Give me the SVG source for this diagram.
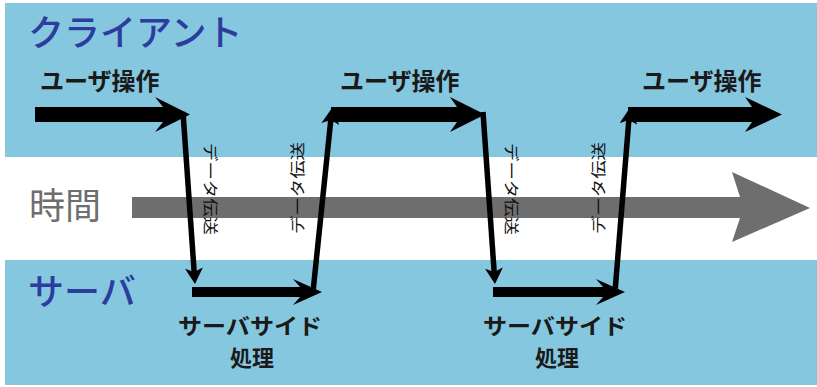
<svg xmlns="http://www.w3.org/2000/svg" width="817" height="387" viewBox="0 0 817 387">
<style>
.band{fill:#86c7e0}
.title{font-family:"Noto Sans CJK JP","Noto Sans",sans-serif;font-size:36px;font-weight:500;fill:#2c3d9e}
.time{font-family:"Noto Sans CJK JP","Noto Sans",sans-serif;font-size:36px;fill:#6e6e6e}
.lbl{font-family:"Noto Sans CJK JP","Noto Sans",sans-serif;font-size:24px;font-weight:bold;fill:#1a1a1a}
.sp{font-family:"Noto Sans CJK JP","Noto Sans",sans-serif;font-size:22px;font-weight:bold;fill:#1a1a1a;text-anchor:middle}
.dl{font-family:"Noto Sans CJK JP","Noto Sans",sans-serif;font-size:15px;fill:#111;text-anchor:middle;dominant-baseline:central}
.thick{fill:#000}
.thin{fill:none;stroke:#000;stroke-width:5.5;marker-end:url(#ah)}
</style>
<defs>
<marker id="ah" markerUnits="userSpaceOnUse" markerWidth="17" markerHeight="18" refX="6" refY="9" orient="auto" viewBox="0 0 17 18">
<path d="M0,0 L16,9 L0,18 L4,9 Z" fill="#000"/>
</marker>
</defs>
<rect width="817" height="387" fill="#fff"/>
<g id="client-band">
<rect class="band" x="5" y="3" width="812" height="154"/>
<text class="title" x="28" y="46">クライアント</text>
</g>
<g id="server-band">
<rect class="band" x="5" y="260" width="812" height="125"/>
<text class="title" x="28" y="305">サーバ</text>
</g>
<g id="time">
<text class="time" x="29" y="219">時間</text>
<path d="M132,197 L740,197 L732,172 L810,208 L732,242 L740,218 L132,218 Z" fill="#6e6e6e"/>
</g>
<g id="connectors">
<path class="thick" d="M35,107 L163,107 L155,97 L190,114.5 L155,132 L163,122 L35,122 Z"/>
<path class="thin" d="M183,112 L194.3,274"/>
<path class="thick" d="M192,287 L300,287 L293,279 L322,292 L293,305 L300,297 L192,297 Z"/>
<path class="thin" d="M313,292 L331,118"/>
<path class="thick" d="M331,107 L457,107 L450,97 L485,114.5 L450,132 L457,122 L331,122 Z"/>
<path class="thin" d="M483,112 L494.3,274"/>
<path class="thick" d="M493,287 L603,287 L596,279 L625,292 L596,305 L603,297 L493,297 Z"/>
<path class="thin" d="M615,292 L629,118"/>
<path class="thick" d="M628,107 L752,107 L745,97 L782,114.5 L745,132 L752,122 L628,122 Z"/>
</g>
<g id="user-op-1"><text class="lbl" x="40" y="90">ユーザ操作</text></g>
<g id="user-op-2"><text class="lbl" x="340" y="90">ユーザ操作</text></g>
<g id="user-op-3"><text class="lbl" x="642" y="90">ユーザ操作</text></g>
<g id="server-proc-1">
<text class="sp" x="250" y="334" textLength="144" lengthAdjust="spacingAndGlyphs">サーバサイド</text>
<text class="sp" x="252" y="366">処理</text>
</g>
<g id="server-proc-2">
<text class="sp" x="555" y="334" textLength="144" lengthAdjust="spacingAndGlyphs">サーバサイド</text>
<text class="sp" x="557" y="366">処理</text>
</g>
<g id="data-labels">
<text class="dl" transform="translate(211,189) rotate(90)" textLength="92" lengthAdjust="spacingAndGlyphs">データ伝送</text>
<text class="dl" transform="translate(296,188) rotate(-90)" textLength="92" lengthAdjust="spacingAndGlyphs">データ伝送</text>
<text class="dl" transform="translate(512,189) rotate(90)" textLength="92" lengthAdjust="spacingAndGlyphs">データ伝送</text>
<text class="dl" transform="translate(597,188) rotate(-90)" textLength="92" lengthAdjust="spacingAndGlyphs">データ伝送</text>
</g>
</svg>
